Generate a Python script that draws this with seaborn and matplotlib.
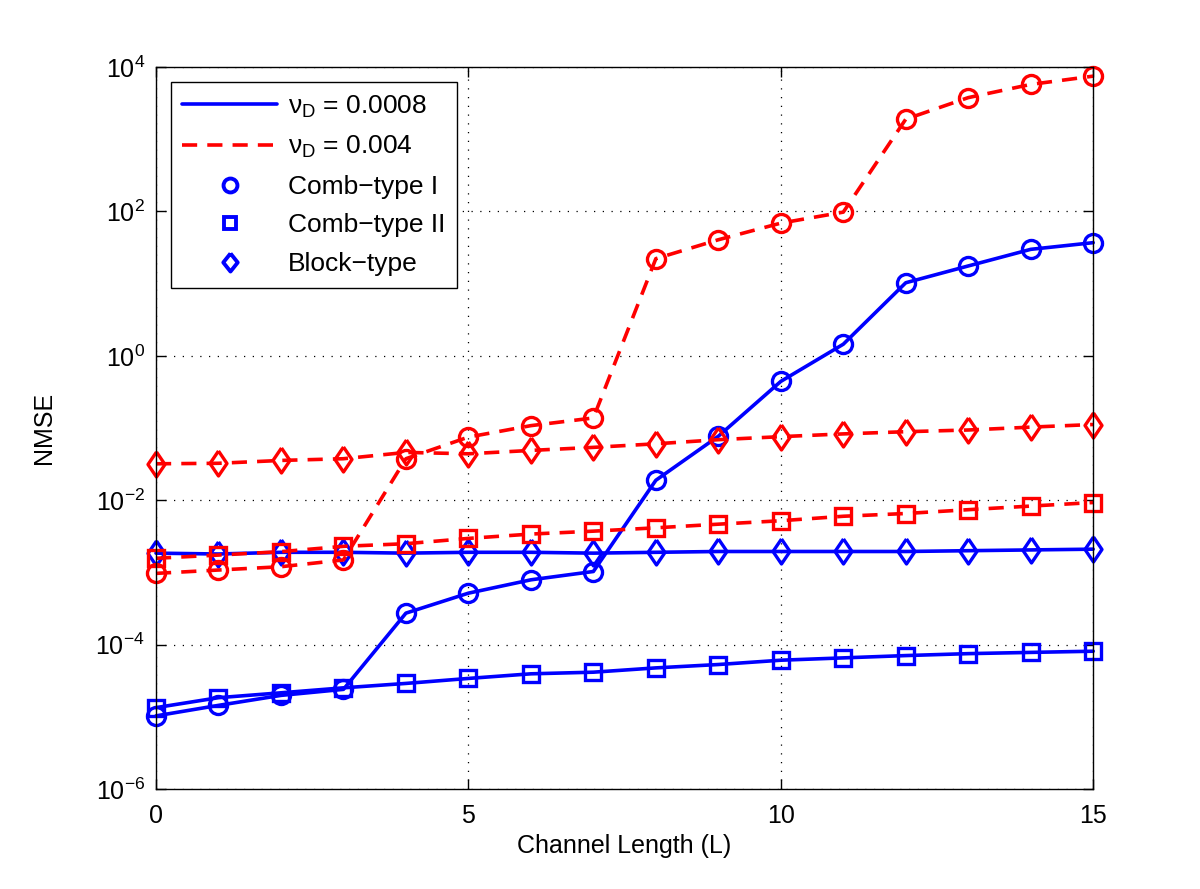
import numpy as np
import pandas as pd
import matplotlib
matplotlib.use("Agg")
import matplotlib.pyplot as plt
import seaborn as sns
from matplotlib.lines import Line2D

# channel length
L = list(range(16))

# nu_D = 0.0008 (solid blue)
comb1_slow = [1.03e-5, 1.44e-5, 1.98e-5, 2.4e-5, 2.73e-4, 5.16e-4, 7.9e-4, 1.03e-3,
              1.89e-2, 7.7e-2, 0.443, 1.45, 10.3, 17.6, 29.9, 37.0]
comb2_slow = [1.34e-5, 1.84e-5, 2.15e-5, 2.52e-5, 2.9e-5, 3.4e-5, 3.94e-5, 4.15e-5,
              4.76e-5, 5.3e-5, 6.08e-5, 6.55e-5, 7.05e-5, 7.5e-5, 7.8e-5, 8.1e-5]
block_slow = [1.85e-3, 1.8e-3, 1.9e-3, 1.9e-3, 1.85e-3, 1.9e-3, 1.9e-3, 1.85e-3,
              1.9e-3, 1.95e-3, 1.95e-3, 1.95e-3, 1.95e-3, 2.0e-3, 2.05e-3, 2.1e-3]

# nu_D = 0.004 (dashed red)
comb1_fast = [9.7e-4, 1.08e-3, 1.2e-3, 1.49e-3, 3.76e-2, 7.5e-2, 0.108, 0.138,
              22.2, 40.6, 69.0, 98.0, 1900.0, 3780.0, 5760.0, 7500.0]
comb2_fast = [1.57e-3, 1.74e-3, 1.94e-3, 2.3e-3, 2.5e-3, 2.96e-3, 3.4e-3, 3.73e-3,
              4.15e-3, 4.66e-3, 5.2e-3, 6.0e-3, 6.55e-3, 7.4e-3, 8.3e-3, 9.3e-3]
block_fast = [3.2e-2, 3.25e-2, 3.56e-2, 3.76e-2, 4.6e-2, 4.4e-2, 4.9e-2, 5.4e-2,
              6.05e-2, 6.9e-2, 7.6e-2, 8.3e-2, 8.9e-2, 9.4e-2, 0.103, 0.112]

sns.set_style("ticks")
plt.rcParams["font.family"] = ["Liberation Sans", "DejaVu Sans"]
plt.rcParams["mathtext.default"] = "regular"
plt.rcParams["font.size"] = 18
plt.rcParams["text.color"] = "black"
plt.rcParams["axes.labelcolor"] = "black"
plt.rcParams["xtick.color"] = "black"
plt.rcParams["ytick.color"] = "black"
plt.rcParams["xtick.direction"] = "in"
plt.rcParams["ytick.direction"] = "in"

# MATLAB-like diamond (taller than wide)
diamond = [(0, 1), (0.68, 0), (0, -1), (-0.68, 0), (0, 1)]
leg_diamond = [(0, 1), (0.8, 0), (0, -1), (-0.8, 0), (0, 1)]

fig = plt.figure(figsize=(12, 8.89), dpi=100)
ax = fig.add_axes([0.13, 0.1125, 0.781, 0.812])

series = [
    (comb1_slow, "blue", "-", "o"),
    (comb2_slow, "blue", "-", "s"),
    (block_slow, "blue", "-", "d"),
    (comb1_fast, "red", "--", "o"),
    (comb2_fast, "red", "--", "s"),
    (block_fast, "red", "--", "d"),
]
sizes = {"o": 13, "s": 11.5, "d": 18}
for vals, col, ls, mk in series:
    df = pd.DataFrame({"L": L, "NMSE": vals})
    line_kws = dict(color=col, linewidth=2.6,
                    marker=diamond if mk == "d" else mk, markersize=sizes[mk],
                    markerfacecolor="none", markeredgecolor=col, markeredgewidth=2.4,
                    clip_on=False)
    if ls == "--":
        line_kws["dashes"] = (4.2, 2.8)
    sns.lineplot(data=df, x="L", y="NMSE", ax=ax, **line_kws)

ax.set_yscale("log")
ax.set_xlim(0, 15)
ax.set_ylim(1e-6, 1e4)
ax.set_xticks([0, 5, 10, 15])
ax.set_yticks([1e-6, 1e-4, 1e-2, 1e0, 1e2, 1e4])
ax.yaxis.set_minor_locator(matplotlib.ticker.NullLocator())
ax.tick_params(which="both", top=True, right=True, length=7, width=1, labelsize=18)
ax.tick_params(axis="x", pad=11)
ax.tick_params(axis="y", pad=8)
ax.grid(True, which="major", color="black", linestyle=(0, (1, 6)), linewidth=0.9)
for sp in ax.spines.values():
    sp.set_linewidth(1)
    sp.set_color("black")

ax.set_xlabel("Channel Length (L)", fontsize=18, labelpad=4)
ax.set_ylabel("NMSE", fontsize=18, labelpad=28)

handles = [
    Line2D([], [], color="blue", linewidth=2.6, linestyle="-"),
    Line2D([], [], color="red", linewidth=2.6, dashes=(4.2, 2.8)),
    Line2D([], [], color="blue", linestyle="none", marker="o", markersize=10,
           markerfacecolor="none", markeredgewidth=2.8),
    Line2D([], [], color="blue", linestyle="none", marker="s", markersize=8.5,
           markerfacecolor="none", markeredgewidth=2.8),
    Line2D([], [], color="blue", linestyle="none", marker=leg_diamond, markersize=13,
           markerfacecolor="none", markeredgewidth=2.8),
]
labels = [r"$\nu_D$ = 0.0008", r"$\nu_D$ = 0.004",
          "Comb\u2212type I", "Comb\u2212type II", "Block\u2212type"]
leg = ax.legend(handles, labels, loc="upper left", bbox_to_anchor=(0.0, 1.0),
                fontsize=19, frameon=True, fancybox=False, edgecolor="black",
                framealpha=1, handlelength=3.6, handletextpad=0.4,
                borderpad=0.45, labelspacing=0.55, borderaxespad=0.55)
leg.get_frame().set_linewidth(1)

fig.savefig("out.png", dpi=100, facecolor="white")
